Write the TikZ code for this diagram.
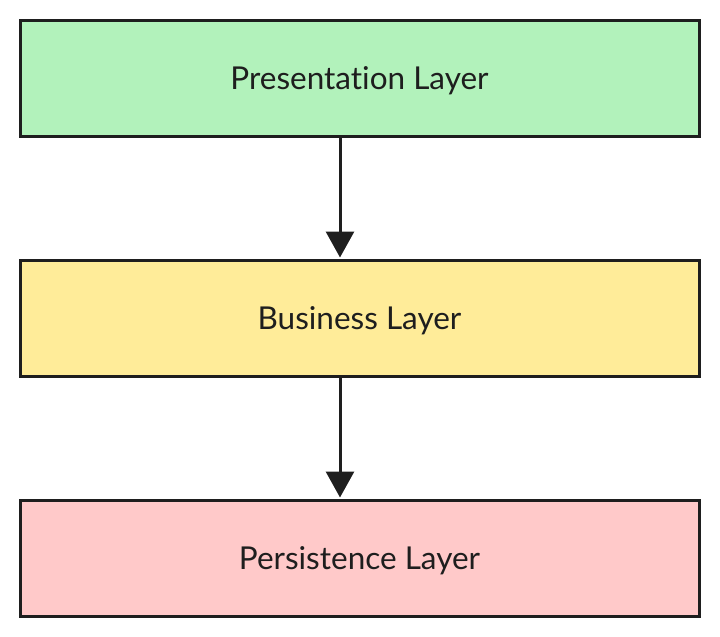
\documentclass[tikz,border=0pt]{standalone}
\usepackage{fontspec}
\setmainfont{Lato}[Ligatures=NoCommon]
\usetikzlibrary{arrows.meta}
\definecolor{bordc}{HTML}{1E1E1E}
\definecolor{greenf}{HTML}{B2F2BB}
\definecolor{yellowf}{HTML}{FFEC99}
\definecolor{redf}{HTML}{FFC9C9}
\begin{document}
\begin{tikzpicture}[x=1pt,y=-1pt,
  layer/.style={draw=bordc,line width=3pt,minimum width=679pt,minimum height=116pt,inner sep=0pt,
    font=\fontsize{31.5}{36}\selectfont,text=bordc,text height=23pt,text depth=0pt},
  conn/.style={draw=bordc,line width=3pt,-{Triangle[width=28pt,length=26pt]},shorten >=1pt}]
\useasboundingbox (0,0) rectangle (720,637);
\node[layer,fill=greenf] (p) at (359.5,78) {Presentation Layer};
\node[layer,fill=yellowf] (b) at (359.5,318) {Business Layer};
\node[layer,fill=redf] (s) at (359.5,558) {Persistence Layer};
\draw[conn] (p.south -| 340,0) -- (b.north -| 340,0);
\draw[conn] (b.south -| 340,0) -- (s.north -| 340,0);
\end{tikzpicture}
\end{document}
